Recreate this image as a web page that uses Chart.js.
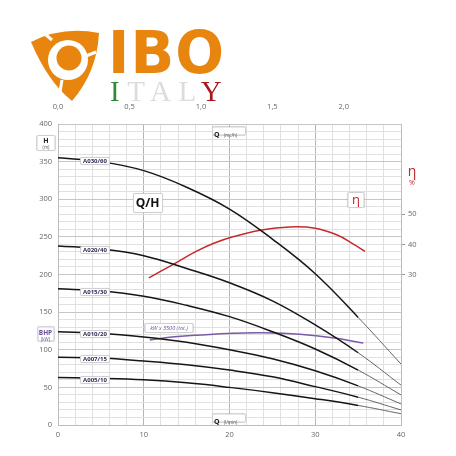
<!DOCTYPE html>
<html>
<head>
<meta charset="utf-8">
<script src="https://cdn.jsdelivr.net/npm/chart.js@4"></script>
<style>
  html, body { margin: 0; padding: 0; background: #fff; }
  #wrap { position: relative; width: 456px; height: 456px; overflow: hidden; font-family: "Open Sans", sans-serif; }
  #chart { position: absolute; left: 0; top: 0; }
  .ov { position: absolute; transform: translate(-50%, -50%); white-space: nowrap; }
  .box { background: #fff; border: 1px solid #cfcfcf; border-radius: 2px; box-shadow: 0 0 1px rgba(0,0,0,0.15); }
  .curve { font-size: 6px; font-weight: bold; color: #2b2b55; width: 28px; height: 6px; line-height: 6px; text-align: center; }
  .unit { font-size: 4.5px; color: #555; }
</style>
</head>
<body>
<div id="wrap">
  <canvas id="chart" width="456" height="456"></canvas>

  <!-- logo -->
  <svg style="position:absolute;left:28px;top:30px" width="76" height="74" viewBox="28 30 76 74">
    <path d="M31 42 Q62 26 99 33 Q97 72 72 101 Q48 82 31 42 Z" fill="#e8850e"/>
    <circle cx="68" cy="60" r="20" fill="#fff"/>
    <circle cx="69" cy="58" r="12.5" fill="#e8850e"/>
    <path d="M52 40 L46 35 M86 56 L96 52 M62 80 L60 92" stroke="#fff" stroke-width="3"/>
  </svg>
  <div style="position:absolute;left:108px;top:22px;font-family:'DejaVu Sans';font-stretch:condensed;font-weight:bold;font-size:58px;line-height:62px;color:#e8850e;letter-spacing:1px;transform:scaleX(1.1);transform-origin:left">IBO</div>
  <div style="position:absolute;left:110px;top:76px;font-family:'Liberation Serif';font-size:29px;line-height:30px;letter-spacing:7.5px">
    <span style="color:#2e8b3a">I</span><span style="color:#dcdcdc">TAL</span><span style="color:#a8181c">Y</span>
  </div>

  <!-- axis name boxes -->
  <div class="ov box" style="left:46px;top:142.5px;width:17px;height:14px;text-align:center;line-height:6px">
    <div style="font-size:7px;font-weight:bold;color:#222;margin-top:2px">H</div><div class="unit">(m)</div>
  </div>
  <div class="ov box" style="left:45.5px;top:334px;width:15px;height:13px;text-align:center;line-height:6px">
    <div style="font-size:6.5px;font-weight:bold;color:#6a4c9c;margin-top:1.5px">BHP</div><div class="unit" style="color:#6a4c9c">(kW)</div>
  </div>
  <div class="ov box" style="left:229px;top:131px;width:31px;height:7px;line-height:7px;padding-left:1px">
    <span style="font-size:7px;font-weight:bold;color:#222">Q</span> <span class="unit">(mc/h)</span>
  </div>
  <div class="ov box" style="left:229px;top:418px;width:31px;height:7px;line-height:7px;padding-left:1px">
    <span style="font-size:7px;font-weight:bold;color:#222">Q</span> <span class="unit">(l/min)</span>
  </div>
  <div class="ov box" style="left:147.5px;top:202.5px;width:28px;height:18px;line-height:18px;text-align:center;font-size:12px;font-weight:bold;color:#111">Q/H</div>
  <div class="ov box" style="left:356px;top:199.5px;width:15px;height:14px;line-height:13px;text-align:center;font-size:13px;color:#c0282d">η</div>
  <div class="ov box" style="left:169px;top:327.5px;width:47px;height:8px;line-height:8px;text-align:center;font-size:5.5px;font-style:italic;color:#6a4c9c">kW x 3500 (tot.)</div>
  <div class="ov" style="left:412px;top:171px;font-size:14px;color:#c0282d;line-height:14px">η</div>
  <div class="ov" style="left:412px;top:182px;font-size:7px;color:#c0282d;line-height:7px">%</div>

  <!-- curve labels -->
  <div class="ov box curve" style="left:95px;top:161px">A030/60</div>
  <div class="ov box curve" style="left:95px;top:250px">A020/40</div>
  <div class="ov box curve" style="left:95px;top:291.5px">A015/30</div>
  <div class="ov box curve" style="left:95px;top:334px">A010/20</div>
  <div class="ov box curve" style="left:95px;top:359px">A007/15</div>
  <div class="ov box curve" style="left:95px;top:379.5px">A005/10</div>
</div>

<script>
// Q (l/min) comune a tutte le curve Q/H
const flowQ = [0, 5, 10, 15, 20, 25, 30, 35, 40];

// prevalenza H (m) per modello
const hA030 = [355, 350, 338, 316, 287, 247, 201, 143, 81];
const hA020 = [238, 234, 225, 208, 189, 165, 133, 96, 53];
const hA015 = [181, 178, 171, 159, 144, 124, 101, 73, 40];
const hA010 = [124, 122, 117, 110, 100, 88, 72, 52, 28];
const hA007 = [90, 89, 85, 80, 73, 64, 51, 37, 20];
const hA005 = [63, 62, 60, 56, 50, 43, 35, 26, 15];

// rendimento η (%)
const effQ = [10.6, 13.4, 16, 18.1, 20.5, 23.6, 27, 30, 32.5, 34.4, 35.8];
const effVal = [28.9, 33.3, 37.5, 40.3, 42.6, 44.7, 45.8, 45.4, 43.2, 40.2, 37.7];

// potenza kW x 3500 (tot.)
const kwQ = [10.7, 13, 16.6, 20.4, 24, 28.2, 32, 35.6];
const kwVal = [113, 116.5, 119.6, 122, 122.5, 120.5, 116, 109];

// etichette assi
const hTicks = [0, 50, 100, 150, 200, 250, 300, 350, 400];
const qTicks = [0, 10, 20, 30, 40];
const mchTicks = [0, 0.5, 1, 1.5, 2];
const etaTicks = [30, 40, 50];

const toXY = (xs, ys) => xs.map((x, i) => ({ x, y: ys[i] }));

function pumpCurve(label, ys) {
  return {
    label,
    data: toXY(flowQ, ys),
    borderColor: '#151515',
    borderWidth: 1.5,
    pointRadius: 0,
    tension: 0.4,
    segment: {
      borderWidth: c => c.p0.parsed.x >= 35 ? 0.9 : 1.5,
      borderColor: c => c.p0.parsed.x >= 35 ? '#555' : '#151515'
    }
  };
}

const gridColor = '#e0e0e0';
const tickFont = { family: 'Open Sans', size: 7.5 };

new Chart(document.getElementById('chart'), {
  type: 'line',
  data: {
    datasets: [
      pumpCurve('A030/60', hA030),
      pumpCurve('A020/40', hA020),
      pumpCurve('A015/30', hA015),
      pumpCurve('A010/20', hA010),
      pumpCurve('A007/15', hA007),
      pumpCurve('A005/10', hA005),
      {
        label: 'η',
        data: toXY(effQ, effVal),
        yAxisID: 'y2',
        borderColor: '#c62a2f',
        borderWidth: 1.5,
        pointRadius: 0,
        tension: 0.4
      },
      {
        label: 'kW x 3500',
        data: toXY(kwQ, kwVal),
        borderColor: '#7a5aa8',
        borderWidth: 1.5,
        pointRadius: 0,
        tension: 0.4
      }
    ]
  },
  options: {
    responsive: false,
    animation: false,
    layout: { padding: 0 },
    plugins: { legend: { display: false }, tooltip: { enabled: false } },
    scales: {
      x: {
        type: 'linear', position: 'bottom', min: 0, max: 40,
        afterFit: s => { s.height = 31; },
        ticks: {
          stepSize: 2, padding: 5, color: '#666', font: tickFont, maxRotation: 0, autoSkip: false,
          callback: v => qTicks.includes(v) ? String(v) : ''
        },
        grid: {
          drawTicks: false,
          color: c => c.tick && c.tick.value % 10 === 0 ? '#b4b4b4' : gridColor,
          lineWidth: 1
        },
        border: { color: '#bdbdbd' }
      },
      x2: {
        type: 'linear', position: 'top', min: 0, max: 2.4,
        afterFit: s => { s.height = 124; },
        afterBuildTicks: s => { s.ticks = mchTicks.map(v => ({ value: v })); },
        ticks: {
          padding: 5, color: '#666', font: tickFont, maxRotation: 0,
          callback: v => v.toFixed(1).replace('.', ',')
        },
        grid: { display: false },
        border: { display: false }
      },
      y: {
        position: 'left', min: 0, max: 400,
        afterFit: s => { s.width = 58; },
        ticks: {
          stepSize: 10, padding: 6, color: '#666', font: tickFont, autoSkip: false,
          callback: v => hTicks.includes(v) ? String(v) : ''
        },
        grid: {
          drawTicks: false,
          color: c => c.tick && c.tick.value % 50 === 0 ? '#c6c6c6' : gridColor,
          lineWidth: 1
        },
        border: { color: '#bdbdbd' }
      },
      y2: {
        position: 'right', min: -20, max: 80,
        afterFit: s => { s.width = 55; },
        afterBuildTicks: s => { s.ticks = etaTicks.map(v => ({ value: v })); },
        ticks: { padding: 3, color: '#666', font: tickFont },
        grid: { drawOnChartArea: false, drawTicks: true, tickLength: 4, color: '#999' },
        border: { color: '#bdbdbd' }
      }
    }
  }
});
</script>
</body>
</html>
